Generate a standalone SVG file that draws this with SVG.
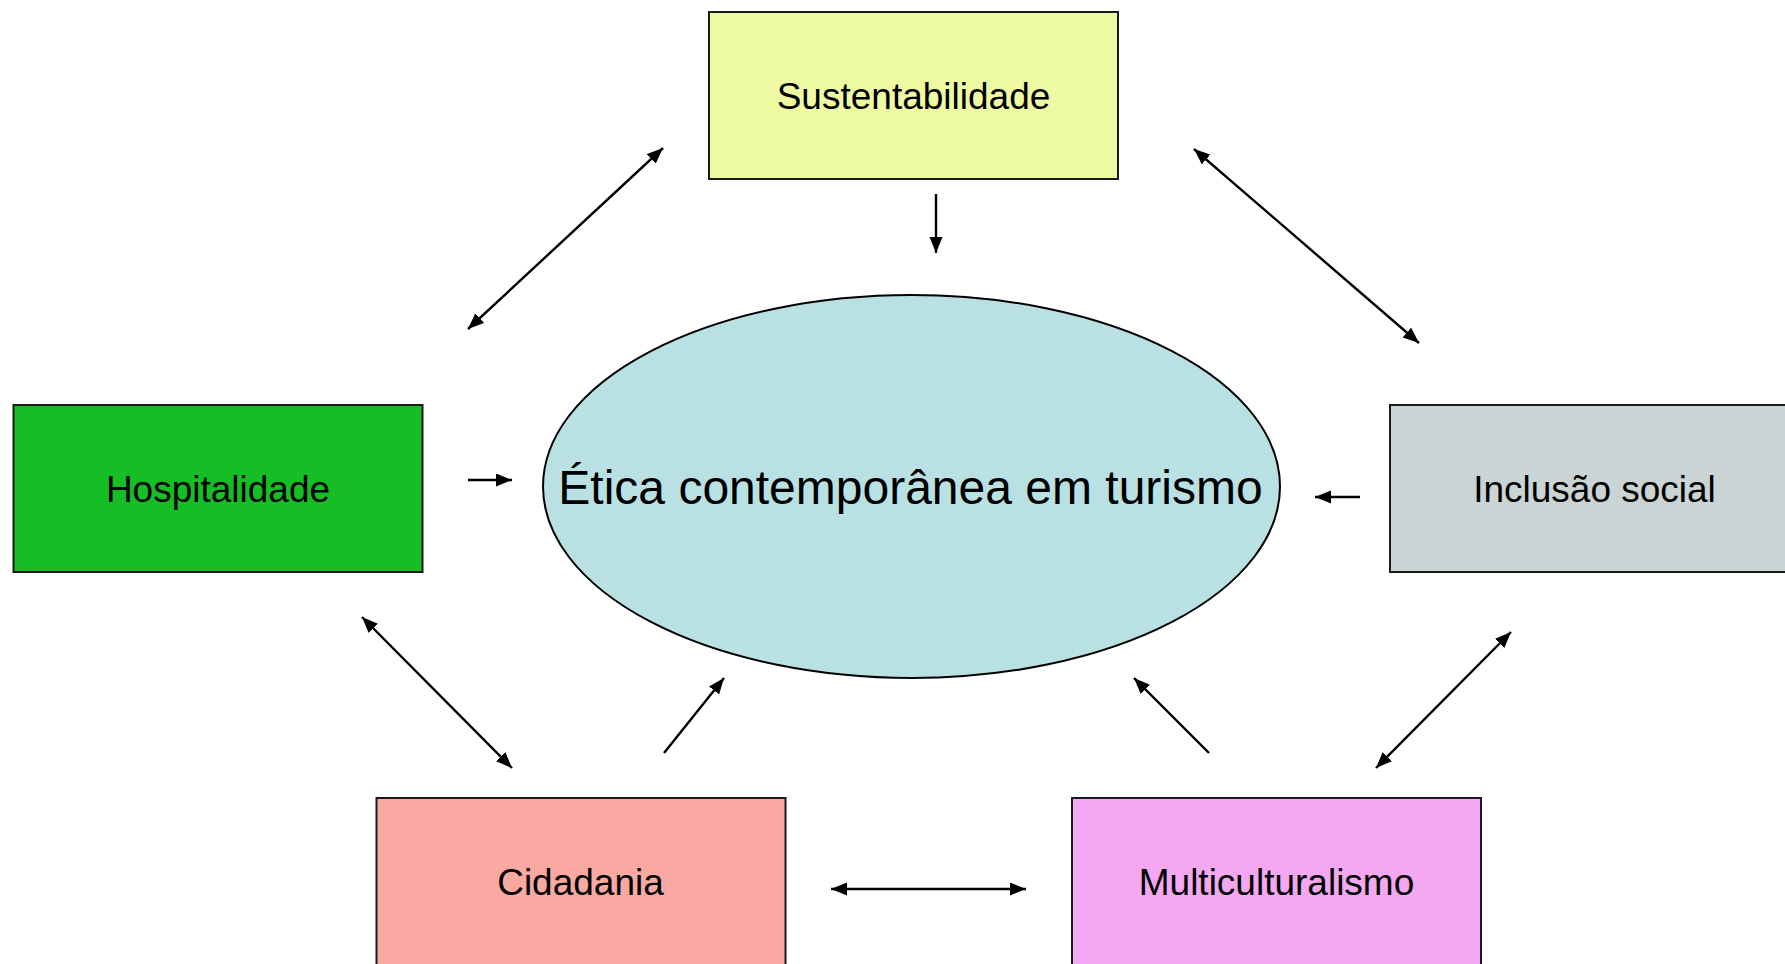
<svg xmlns="http://www.w3.org/2000/svg" width="1785" height="964" viewBox="0 0 1785 964">
<style>
.box{stroke:#1a1a1a;stroke-width:2}
.lbl{font-family:"Liberation Sans",Arial,sans-serif;font-size:37px;fill:#000;text-anchor:middle}
.big{font-family:"Liberation Sans",Arial,sans-serif;font-size:48px;fill:#000;text-anchor:middle}
.c line{stroke:#000;stroke-width:2.4}
</style>
<defs>
<marker id="ah" markerUnits="userSpaceOnUse" markerWidth="18" markerHeight="14" refX="16" refY="6.5" orient="auto-start-reverse">
<path d="M0,0 L16,6.5 L0,13 z" fill="#000"/>
</marker>
</defs>
<rect width="1785" height="964" fill="#fff"/>
<g id="etica">
<ellipse cx="911.5" cy="486.5" rx="368.5" ry="191.5" fill="#b9e0e3" stroke="#000" stroke-width="2"/>
<text class="big" x="910.5" y="504">Ética contemporânea em turismo</text>
</g>
<g id="sustentabilidade">
<rect class="box" x="709" y="12" width="409" height="167" fill="#eefaa2"/>
<text class="lbl" x="913.5" y="108.5">Sustentabilidade</text>
</g>
<g id="hospitalidade">
<rect class="box" x="13.5" y="405" width="409" height="167" fill="#14be24"/>
<text class="lbl" x="218" y="501.5">Hospitalidade</text>
</g>
<g id="inclusao">
<rect class="box" x="1390" y="405" width="409" height="167" fill="#cad4d4"/>
<text class="lbl" x="1594.5" y="501.5">Inclusão social</text>
</g>
<g id="cidadania">
<rect class="box" x="376.5" y="798" width="409" height="167" fill="#f9a8a2"/>
<text class="lbl" x="580.5" y="895">Cidadania</text>
</g>
<g id="multiculturalismo">
<rect class="box" x="1072" y="798" width="409" height="167" fill="#f4a8f2"/>
<text class="lbl" x="1276.5" y="895">Multiculturalismo</text>
</g>
<g id="connectors" class="c">
<line x1="936" y1="194" x2="936" y2="253" marker-end="url(#ah)"/>
<line x1="663" y1="148" x2="468" y2="329" marker-start="url(#ah)" marker-end="url(#ah)"/>
<line x1="1194" y1="149" x2="1419" y2="343" marker-start="url(#ah)" marker-end="url(#ah)"/>
<line x1="468" y1="480" x2="512" y2="480" marker-end="url(#ah)"/>
<line x1="1360" y1="497" x2="1315" y2="497" marker-end="url(#ah)"/>
<line x1="362" y1="617" x2="512" y2="768" marker-start="url(#ah)" marker-end="url(#ah)"/>
<line x1="664" y1="753" x2="724" y2="678" marker-end="url(#ah)"/>
<line x1="1209" y1="753" x2="1134" y2="678" marker-end="url(#ah)"/>
<line x1="1511" y1="632" x2="1376" y2="768" marker-start="url(#ah)" marker-end="url(#ah)"/>
<line x1="831" y1="889" x2="1026" y2="889" marker-start="url(#ah)" marker-end="url(#ah)"/>
</g>
</svg>
